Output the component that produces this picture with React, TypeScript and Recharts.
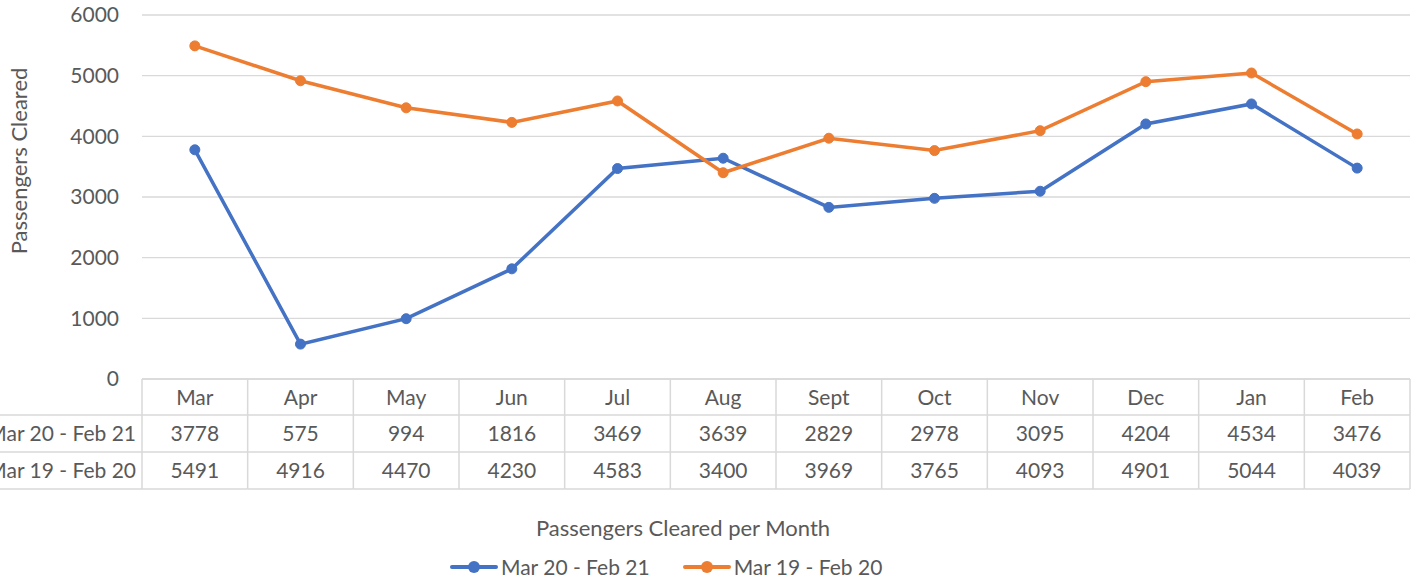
import { CartesianGrid, Line, LineChart, XAxis, YAxis } from 'recharts'

const months = ['Mar', 'Apr', 'May', 'Jun', 'Jul', 'Aug', 'Sept', 'Oct', 'Nov', 'Dec', 'Jan', 'Feb']
const cleared2021 = [3778, 575, 994, 1816, 3469, 3639, 2829, 2978, 3095, 4204, 4534, 3476]
const cleared2020 = [5491, 4916, 4470, 4230, 4583, 3400, 3969, 3765, 4093, 4901, 5044, 4039]
const yTicks = [0, 1000, 2000, 3000, 4000, 5000, 6000]

const series = [
  { key: 'a', name: 'Mar 20 - Feb 21', color: '#4472C4', values: cleared2021 },
  { key: 'b', name: 'Mar 19 - Feb 20', color: '#ED7D31', values: cleared2020 },
]

const data = months.map((m, i) => ({ month: m, a: cleared2021[i], b: cleared2020[i] }))

const W = 1420
const H = 583
const LEFT = 142
const RIGHT = 10
const TOP = 15
const AXIS_H = 204
const COL_W = (W - LEFT - RIGHT) / months.length
const ROW_H = [36, 37, 37]
const FONT = 'Lato, "Open Sans", sans-serif'
const TXT = '#595959'
const GRID = '#d9d9d9'

function TableTick(props: any) {
  const { x, y, payload, index } = props
  const x0 = x - COL_W / 2
  const x1 = x + COL_W / 2
  const r1 = y + ROW_H[0]
  const r2 = r1 + ROW_H[1]
  const r3 = r2 + ROW_H[2]
  const first = index === 0
  const last = index === months.length - 1
  const cell = (txt: string | number, cy: number, cx = x, anchor = 'middle') => (
    <text x={cx} y={cy} dy="0.36em" textAnchor={anchor} fill={TXT} fontSize={21} fontFamily={FONT}>
      {txt}
    </text>
  )
  return (
    <g>
      <line x1={x0} x2={x0} y1={y} y2={r3} stroke={GRID} strokeWidth={1.5} />
      {last && <line x1={x1} x2={x1} y1={y} y2={r3} stroke={GRID} strokeWidth={1.5} />}
      {[r1, r2, r3].map((ry) => (
        <line key={ry} x1={first ? 0 : x0} x2={x1} y1={ry} y2={ry} stroke={GRID} strokeWidth={1.5} />
      ))}
      {cell(payload.value, y + ROW_H[0] / 2)}
      {cell(series[0].values[index], r1 + ROW_H[1] / 2)}
      {cell(series[1].values[index], r2 + ROW_H[2] / 2)}
      {/* row labels run off the left edge, as in the source */}
      {first && cell(series[0].name, r1 + ROW_H[1] / 2, x0 - 6, 'end')}
      {first && cell(series[1].name, r2 + ROW_H[2] / 2, x0 - 6, 'end')}
    </g>
  )
}

export default function App() {
  return (
    <div style={{ position: 'absolute', left: 0, top: 0, width: W, height: H, background: '#fff', overflow: 'hidden' }}>
      <LineChart width={W} height={H} data={data} margin={{ top: TOP, right: RIGHT, bottom: 0, left: 0 }}>
        <CartesianGrid vertical={false} stroke={GRID} strokeWidth={1.3} />
        <XAxis
          dataKey="month"
          height={AXIS_H}
          padding={{ left: COL_W / 2, right: COL_W / 2 }}
          axisLine={{ stroke: GRID, strokeWidth: 1.5 }}
          tickLine={false}
          tickSize={0}
          tickMargin={0}
          interval={0}
          tick={<TableTick />}
        />
        <YAxis
          width={LEFT}
          domain={[0, 6000]}
          ticks={yTicks}
          axisLine={false}
          tickLine={false}
          tickSize={0}
          tickMargin={23}
          tick={{ fill: TXT, fontSize: 21, fontFamily: FONT }}
          label={{
            content: () => (
              <text
                x={19}
                y={161}
                transform="rotate(-90 19 161)"
                dy="0.36em"
                textAnchor="middle"
                fill={TXT}
                fontSize={22}
                fontFamily={FONT}
              >
                Passengers Cleared
              </text>
            ),
          }}
        />
        {series.map((s) => (
          <Line
            key={s.key}
            dataKey={s.key}
            name={s.name}
            stroke={s.color}
            strokeWidth={3.5}
            dot={{ r: 5, fill: s.color, stroke: s.color, strokeWidth: 1 }}
            isAnimationActive={false}
          />
        ))}
      </LineChart>
      <div
        style={{
          position: 'absolute',
          left: 0,
          top: 514,
          width: 1366,
          textAlign: 'center',
          color: TXT,
          fontSize: 22,
          fontFamily: FONT,
        }}
      >
        Passengers Cleared per Month
      </div>
      <div
        style={{
          position: 'absolute',
          left: 450,
          top: 554,
          display: 'flex',
          gap: 33,
          color: TXT,
          fontSize: 21,
          fontFamily: FONT,
        }}
      >
        {series.map((s) => (
          <div key={s.key} style={{ display: 'flex', alignItems: 'center' }}>
            <svg width={48} height={14} style={{ marginRight: 3 }}>
              <line x1={2} x2={46} y1={7} y2={7} stroke={s.color} strokeWidth={4} strokeLinecap="round" />
              <circle cx={24} cy={7} r={6} fill={s.color} />
            </svg>
            <span>{s.name}</span>
          </div>
        ))}
      </div>
    </div>
  )
}
